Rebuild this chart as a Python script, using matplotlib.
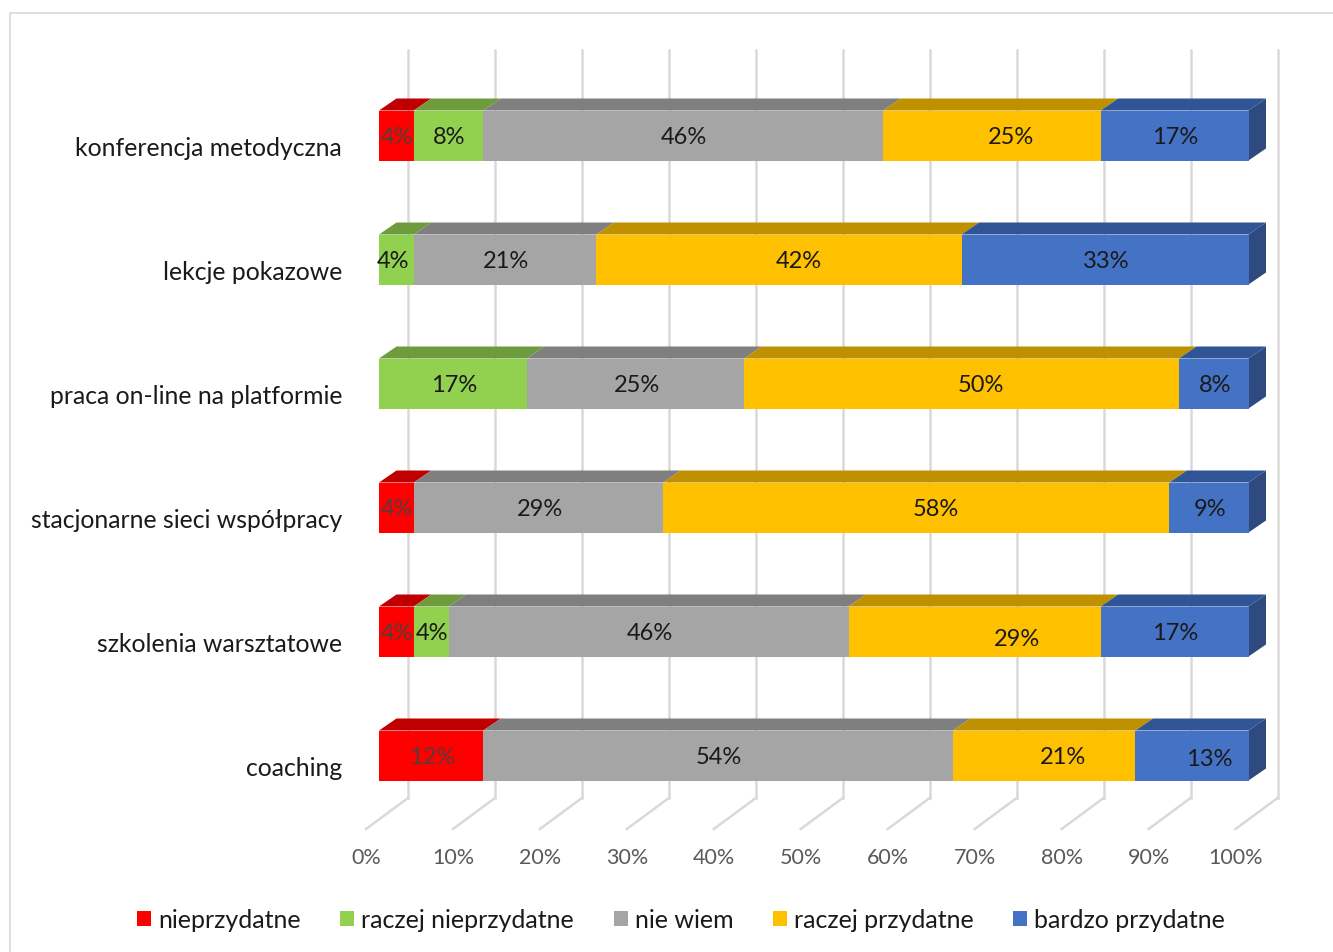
import matplotlib
matplotlib.use("Agg")
import matplotlib.pyplot as plt
from matplotlib.patches import Polygon, Rectangle
from matplotlib.transforms import ScaledTranslation

plt.rcParams['font.family'] = ['Lato', 'DejaVu Sans']

categories = ["konferencja metodyczna", "lekcje pokazowe", "praca on-line na platformie",
              "stacjonarne sieci współpracy", "szkolenia warsztatowe", "coaching"]
series = ["nieprzydatne", "raczej nieprzydatne", "nie wiem", "raczej przydatne", "bardzo przydatne"]
nieprzydatne = [4, 0, 0, 4, 4, 12]
raczej_nie = [8, 4, 17, 0, 4, 0]
nie_wiem = [46, 21, 25, 28.7, 46, 54]
raczej_tak = [25, 42, 50, 58.2, 29, 21]
bardzo = [17, 33, 8, 9.1, 17, 13]
values = [nieprzydatne, raczej_nie, nie_wiem, raczej_tak, bardzo]
front = ['#FF0000', '#92D050', '#A5A5A5', '#FFC000', '#4472C4']
top = ['#C00000', '#6E9C3C', '#7F7F7F', '#BF9000', '#2F5597']
text_col = ['#5A3A3A', '#1A1A1A', '#1A1A1A', '#1A1A1A', '#1A1A1A']
side = '#2F4A7F'
ticks = list(range(0, 101, 10))

W, H = 1333, 952
fig = plt.figure(figsize=(W/100, H/100), dpi=100)
fig.add_artist(Rectangle((10/W, -0.01), 1.1, 1 - 13/H + 0.01, transform=fig.transFigure,
                         fill=False, ec='#D9D9D9', lw=1.2))
ax = fig.add_axes([379/W, 1 - 817.5/H, 869.5/W, 744/H])
ax.set_xlim(0, 100)
ax.set_ylim(5.5, -0.5)
ax.patch.set_visible(False)
for s in ax.spines.values():
    s.set_visible(False)

dx, dy = 17.5/8.695, -12/124       # depth of the 3-D effect, in data units
bh = 50/124
gx, gy0, gy1 = 29/8.695, (798-135.5)/124, (50-135.5)/124
fx, fy = -13/8.695, (829-135.5)/124
for t in ticks:
    ax.plot([t+gx, t+gx], [gy0, gy1], color='#D9D9D9', lw=1.8, clip_on=False, zorder=1)
    ax.plot([t+gx, t+fx], [gy0, fy], color='#D9D9D9', lw=1.8, clip_on=False, zorder=1)

for i in range(len(categories)):
    left = 0
    for k, vals in enumerate(values):
        v = vals[i]
        if v == 0:
            continue
        ax.barh(i, v, left=left, height=bh, color=front[k], lw=0, zorder=3)
        y0 = i - bh/2
        ax.add_patch(Polygon([(left, y0), (left+v, y0), (left+v+dx, y0+dy), (left+dx, y0+dy)],
                             fc=top[k], lw=0, zorder=2, clip_on=False))
        left += v
    ax.add_patch(Polygon([(100, i-bh/2), (100+dx, i-bh/2+dy), (100+dx, i+bh/2+dy), (100, i+bh/2)],
                         fc=side, lw=0, zorder=2, clip_on=False))

label_shift = {(0, 3): (19, 0), (1, 3): (20, 0), (2, 3): (19, 0), (3, 3): (19, 0),
               (4, 3): (42, 6), (5, 3): (19, 0), (5, 4): (17, 1), (1, 1): (-3, 0)}
for i in range(len(categories)):
    left = 0
    for k, vals in enumerate(values):
        v = vals[i]
        if v == 0:
            continue
        sx, sy = label_shift.get((i, k), (1, 0))
        ax.annotate(f"{round(v)}%", (left+v/2, i), xytext=(sx*.72, -(sy+2.5)*.72), textcoords='offset points',
                    ha='center', va='center', fontsize=17, color=text_col[k], zorder=5)
        left += v

ax.set_yticks(range(len(categories)), categories)
ax.set_xticks(ticks, [f"{t}%" for t in ticks])
ax.tick_params(length=0)
ax.tick_params(axis='y', labelsize=17.8, labelcolor='#1A1A1A', pad=37*.72)
ax.tick_params(axis='x', labelsize=15.5, labelcolor='#595959', pad=31*.72)
off = ScaledTranslation(-12.5/100, 0, fig.dpi_scale_trans)
for l in ax.get_xticklabels():
    l.set_transform(l.get_transform() + off)
off2 = ScaledTranslation(0, -10.5/100, fig.dpi_scale_trans)
for l in ax.get_yticklabels():
    l.set_transform(l.get_transform() + off2)

# legend
handles = [Rectangle((0, 0), 1, 1, fc=c, lw=0) for c in front]
fig.legend(handles, series, loc='center', bbox_to_anchor=(681/W, 1 - 920/H), ncol=5, frameon=False,
           fontsize=18, labelcolor='#1A1A1A', handlelength=0.56, handleheight=0.56,
           handletextpad=0.28, columnspacing=1.58)
fig.savefig("out.png", dpi=100)
